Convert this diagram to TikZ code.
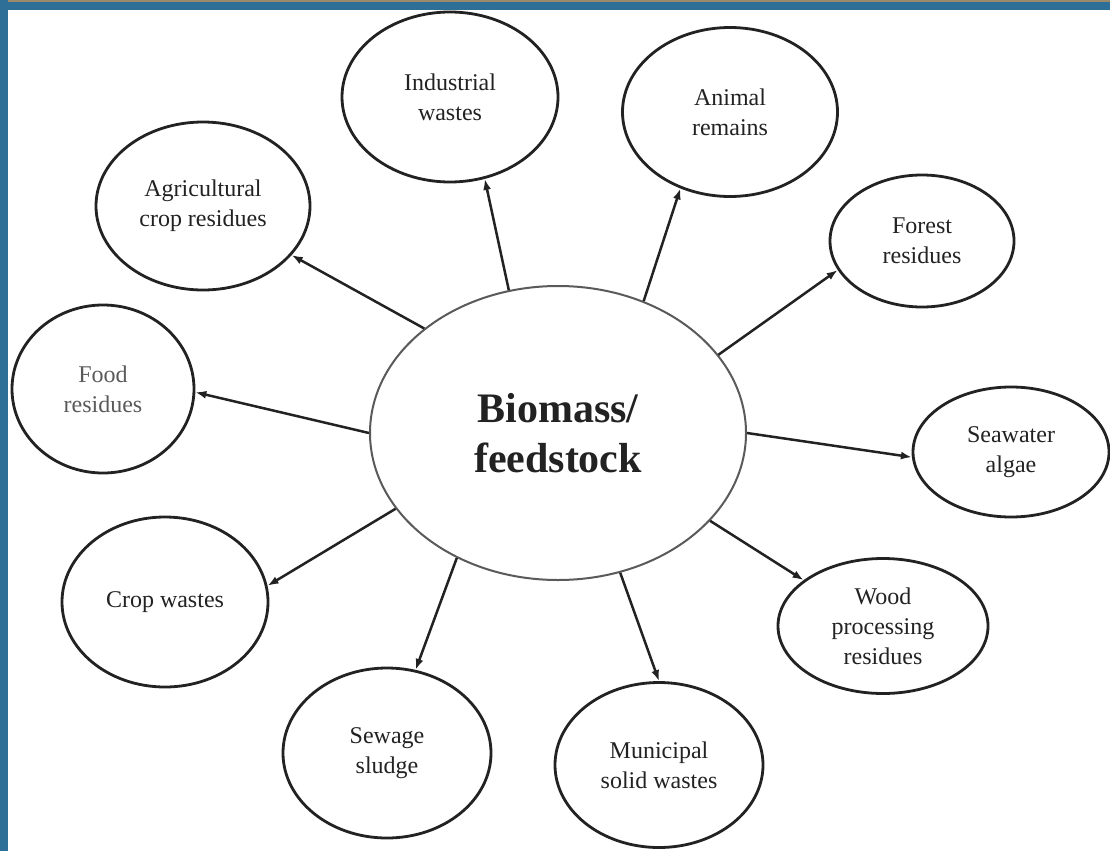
\documentclass[tikz,border=0pt]{standalone}
\usepackage{fontspec}
\setmainfont{Liberation Serif}
\usetikzlibrary{shapes.geometric,arrows.meta}

\definecolor{frameblue}{HTML}{2E6F98}
\definecolor{framebrown}{HTML}{9A8A6A}
\definecolor{inkdark}{HTML}{222222}
\definecolor{inkgray}{HTML}{5A5A5A}

\tikzset{
    src/.style={ellipse, draw=inkdark, line width=2.8pt, inner sep=0pt,
        align=center, text=inkdark, font=\fontsize{24}{30}\selectfont},
    core/.style={ellipse, draw=inkgray, line width=2pt, inner sep=0pt,
        align=center, text=inkdark, font=\fontsize{42}{50}\selectfont\bfseries},
    arr/.style={->, draw=inkdark, line width=2.5pt}
}

\begin{document}
\begin{tikzpicture}[x=1pt, y=-1pt, >={Latex[length=11pt,width=8pt]}]
        \useasboundingbox (0,0) rectangle (1110,851);
        \fill[white] (0,0) rectangle (1110,851);

        % frame
        \fill[framebrown] (0,0) rectangle (1110,2);
        \fill[frameblue] (0,2) rectangle (1110,10);
        \fill[frameblue] (0,0) rectangle (8,851);

        % centre
        \node[core, minimum width=376pt, minimum height=294pt] (bio) at (558,433) {Biomass/\\feedstock};

        % sources
        \node[src, minimum width=214pt, minimum height=168pt] (agri) at (203,206) {Agricultural\\crop residues};
        \node[src, minimum width=216pt, minimum height=170pt] (indus) at (450,97) {Industrial\\wastes};
        \node[src, minimum width=215pt, minimum height=169pt] (animal) at (730,112) {Animal\\remains};
        \node[src, minimum width=184pt, minimum height=132pt] (forest) at (922,241) {Forest\\residues};
        \node[src, minimum width=182pt, minimum height=168pt, text=inkgray] (food) at (103,389) {Food\\residues};
        \node[src, minimum width=196pt, minimum height=130pt] (sea) at (1011,452) {Seawater\\algae};
        \node[src, minimum width=206pt, minimum height=170pt] (crop) at (165,602) {Crop wastes};
        \node[src, minimum width=210pt, minimum height=135pt] (wood) at (883,626) {Wood\\processing\\residues};
        \node[src, minimum width=208pt, minimum height=170pt] (sewage) at (387,753) {Sewage\\sludge};
        \node[src, minimum width=208pt, minimum height=165pt] (msw) at (659,765) {Municipal\\solid wastes};

        % arrows
        \draw[arr] (bio.142) -- (agri.331);
        \draw[arr] (bio.109) -- (indus.293);
        \draw[arr] (bio.57) -- (animal.237);
        \draw[arr] (bio.26) -- (forest.199);
        \draw[arr] (bio.180) -- (food.358);
        \draw[arr] (bio.0) -- (sea.183);
        \draw[arr] (bio.205) -- (crop.9);
        \draw[arr] (bio.-30) -- (wood.150);
        \draw[arr] (bio.231) -- (sewage.71);
        \draw[arr] (bio.-66) -- (msw.90);
    \end{tikzpicture}
\end{document}
